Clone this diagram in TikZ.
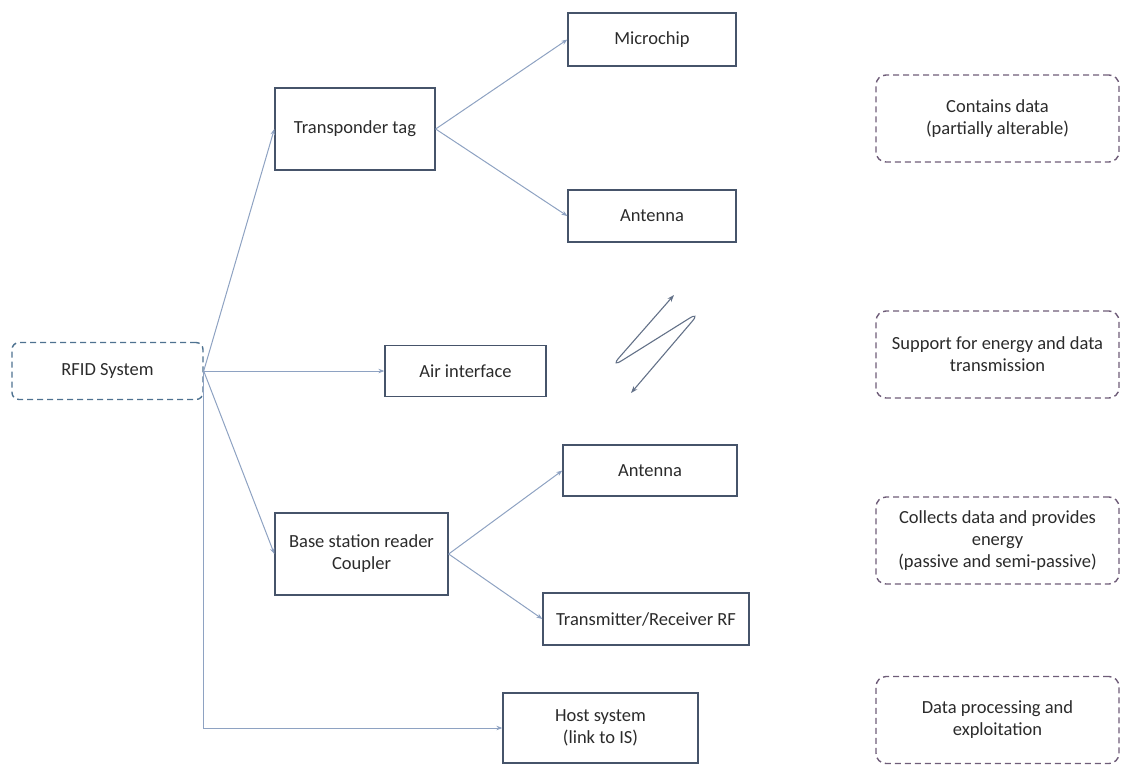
\documentclass[tikz,border=0pt]{standalone}
\usepackage{fontspec}
\setmainfont{Carlito}
\usetikzlibrary{arrows.meta}

\definecolor{linkblue}{HTML}{8EA2C2}
\definecolor{tipblue}{HTML}{4B5F88}
\definecolor{boxedge}{HTML}{46546A}
\definecolor{rootedge}{HTML}{4E7290}
\definecolor{noteedge}{HTML}{6E5C78}
\definecolor{inkgrey}{HTML}{2B2B2B}

\begin{document}
\begin{tikzpicture}[x=1pt, y=-1pt,
    every node/.style={font=\fontsize{18.5}{22}\selectfont, text=inkgrey, align=center},
    part/.style={draw=boxedge, line width=1.3pt, rectangle, inner sep=2pt},
    root/.style={draw=rootedge, line width=1.4pt, dash pattern=on 6pt off 4pt,
      rounded corners=7pt, minimum width=191pt, minimum height=57pt},
    note/.style={draw=noteedge, line width=1.4pt, dash pattern=on 6pt off 4pt,
      rounded corners=10pt, minimum width=243pt, minimum height=87pt},
    link/.style={draw=linkblue, line width=1pt, -{Stealth[length=6pt, width=4.5pt, fill=tipblue]}}]

      \useasboundingbox (0, 0) rectangle (1121, 764);

      % Root of the tree
      \node[root] (rfid) at (107.5, 371) {RFID System};

      % First level
      \node[part, minimum width=160pt, minimum height=82pt] (tag) at (355, 129) {Transponder tag};
      \node[part, minimum width=161pt, minimum height=51pt] (air) at (465.5, 371) {Air interface};
      \node[part, minimum width=173pt, minimum height=82pt] (reader) at (361.5, 554) {Base station reader\\Coupler};
      \node[part, minimum width=195pt, minimum height=70pt] (host) at (600.5, 728) {Host system\\(link to IS)};

      % Second level
      \node[part, minimum width=168pt, minimum height=53pt] (chip) at (652, 39.5) {Microchip};
      \node[part, minimum width=168pt, minimum height=52pt] (tagant) at (652, 216) {Antenna};
      \node[part, minimum width=174pt, minimum height=51pt] (readant) at (650, 470.5) {Antenna};
      \node[part, minimum width=206pt, minimum height=52pt] (trx) at (646, 619) {Transmitter/Receiver RF};

      % Links from the root
      \draw[link] (rfid.east) -- (tag.west);
      \draw[link] (rfid.east) -- (air.west);
      \draw[link] (rfid.east) -- (reader.west);
      \draw[link] (rfid.east) |- (host.west);

      % Links to the parts
      \draw[link] (tag.east) -- (chip.west);
      \draw[link] (tag.east) -- (tagant.west);
      \draw[link] (reader.east) -- (readant.west);
      \draw[link] (reader.east) -- (trx.west);

      % Radio link between tag and reader
      \coordinate (wave1) at (674, 295);
      \coordinate (wave2) at (610, 368);
      \coordinate (wave3) at (701, 311);
      \coordinate (wave4) at (631, 393);
      \draw[draw=linkblue!70!black, line width=1.1pt, rounded corners=14pt,
        {Stealth[length=7pt, width=5pt]}-{Stealth[length=7pt, width=5pt]}]
        (wave1) -- (wave2) -- (wave3) -- (wave4);

      % Notes on the right
      \foreach \i/\y/\txt in {1/118.5/{Contains data\\(partially alterable)},
        2/354.5/{Support for energy and data\\transmission},
        3/540.5/{Collects data and provides\\energy\\(passive and semi-passive)},
        4/720/{Data processing and\\exploitation}} {
        \node[note] (note\i) at (997.5, \y) {\txt};
      }
    \end{tikzpicture}
\end{document}
